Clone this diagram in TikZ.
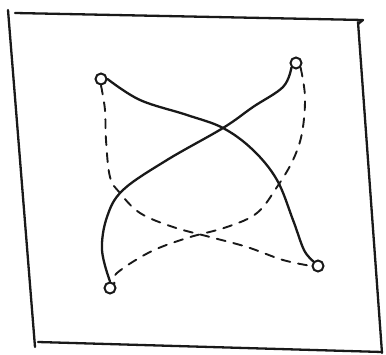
\documentclass[tikz,border=0pt]{standalone}
\begin{document}
\begin{tikzpicture}[x=1pt,y=-1pt,
  pen/.style={line width=2.3pt,line cap=round,line join=round,black!90},
  dpen/.style={line width=1.9pt,line cap=round,dash pattern=on 9pt off 8pt,black!90},
  knob/.style={circle,draw,line width=2pt,minimum size=11pt,inner sep=0pt,black!90}]
\useasboundingbox (0,0) rectangle (386,355);
% frame
\draw[pen] (8,10) -- (35,347);
\draw[pen] (15,13) -- (363,20) -- (358,24);
\draw[pen] (358,22) -- (382,353);
\draw[pen] (38,342) -- (382,352);
% knobs
\node[knob] (tl) at (101,79) {};
\node[knob] (tr) at (296,63) {};
\node[knob] (br) at (318,266) {};
\node[knob] (bl) at (110,288) {};
% solid curves
\draw[pen] plot[smooth,tension=0.6] coordinates {(tl.east) (140,100) (187,115) (223,128) (253,150) (277,180) (293,220) (304,250) (br.north west)};
\draw[pen] plot[smooth,tension=0.6] coordinates {(tr.south west) (283,87) (253,107) (223,128) (167,160) (123,190) (107,217) (102,250) (bl.north)};
% dashed curves
\draw[dpen] plot[smooth,tension=0.6] coordinates {(tl.south) (105,110) (106,140) (110,177) (120,193) (140,213) (173,227) (210,237) (247,247) (283,260) (br.west)};
\draw[dpen] plot[smooth,tension=0.6] coordinates {(tr.south east) (305,97) (302,133) (293,160) (277,187) (257,213) (227,227) (187,238) (150,252) (117,273) (bl.north east)};
\end{tikzpicture}
\end{document}
